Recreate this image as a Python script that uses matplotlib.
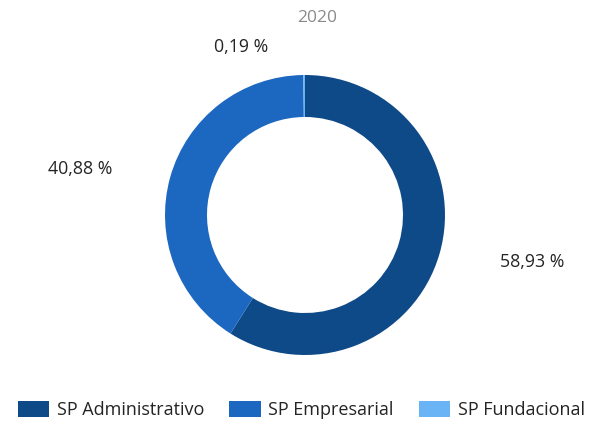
import numpy as np
import matplotlib.pyplot as plt
from matplotlib.patches import Patch

plt.rcParams['font.family'] = ['Open Sans', 'DejaVu Sans']

categories = ['SP Administrativo', 'SP Empresarial', 'SP Fundacional']
shares = [58.93, 40.88, 0.19]
labels = ['58,93 %', '40,88 %', '0,19 %']
colors = ['#0F4A88', '#1C67C0', '#6AB4F5']
year = '2020'

fig = plt.figure(figsize=(6, 4.23), dpi=100)
ax = fig.add_axes([165 / 600, 68 / 423, 280 / 600, 280 / 423])

wedges, _ = ax.pie(shares, colors=colors, startangle=90, counterclock=False,
                   radius=1, wedgeprops=dict(width=0.3, linewidth=0))

for w, lab in zip(wedges, labels):
    theta = np.deg2rad((w.theta1 + w.theta2) / 2)
    x = 1.2 * np.cos(theta)
    y = 1.2 * np.sin(theta)
    x += 0.47 if x > 0 else -0.45
    ax.text(x, y, lab, ha='center', va='center', fontsize=12.8, color='#252423')

ax.set_xlim(-1, 1)
ax.set_ylim(-1, 1)
ax.set_aspect('equal')
ax.axis('off')

fig.text(317 / 600, 1 - 18 / 423, year, ha='center', va='center',
         fontsize=12.5, color='#8a8a8a')

handles = [Patch(facecolor=c, edgecolor='none') for c in colors]
fig.legend(handles, categories, loc='center', bbox_to_anchor=(0.502, 1 - 410 / 423),
           ncol=3, frameon=False, fontsize=13, handlelength=1.75, handleheight=1.0,
           columnspacing=1.4, handletextpad=0.4, labelcolor='#252423',
           borderaxespad=0, borderpad=0)

fig.savefig('out.png', dpi=100)
